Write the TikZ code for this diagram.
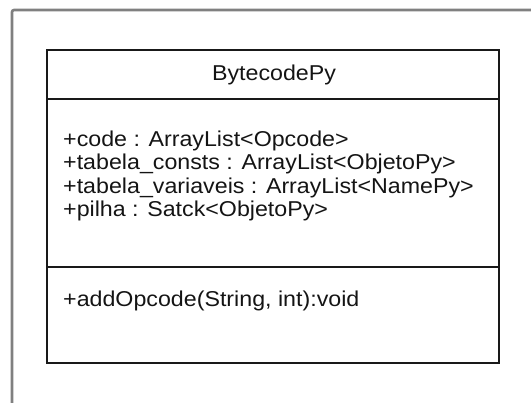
\documentclass[tikz,border=0pt]{standalone}
\usepackage{fontspec}
\setmainfont[FakeStretch=1.08]{Liberation Sans}
\begin{document}
\begin{tikzpicture}[x=1pt,y=-1pt,
  frame/.style={draw=black!50,line width=2.6pt,rounded corners=2pt},
  classbox/.style={draw=black!90,line width=2.4pt},
  member/.style={anchor=base west,inner sep=0pt,font=\fontsize{21.5}{23.3}\selectfont,text=black!92},
  title/.style={anchor=center,inner sep=0pt,font=\fontsize{21.5}{23.3}\selectfont,text=black!92}]
\useasboundingbox (0,0) rectangle (531,403);
% outer frame, running off the right and bottom edges
\draw[frame] (12,410) -- (12,10) -- (540,10);
% class box with its three compartments
\draw[classbox] (47,50) rectangle (499,363);
\draw[classbox] (47,99) -- (499,99);
\draw[classbox] (47,267) -- (499,267);
\node[title] (name) at (274,75) {BytecodePy};
\node[member] (a1) at (63,146.7) {+code : ArrayList<Opcode>};
\node[member] (a2) at (63,170) {+tabela\_consts : ArrayList<ObjetoPy>};
\node[member] (a3) at (63,193.3) {+tabela\_variaveis : ArrayList<NamePy>};
\node[member] (a4) at (63,216.7) {+pilha : Satck<ObjetoPy>};
\node[member] (m1) at (63,306.7) {+addOpcode(String, int):void};
\end{tikzpicture}
\end{document}
